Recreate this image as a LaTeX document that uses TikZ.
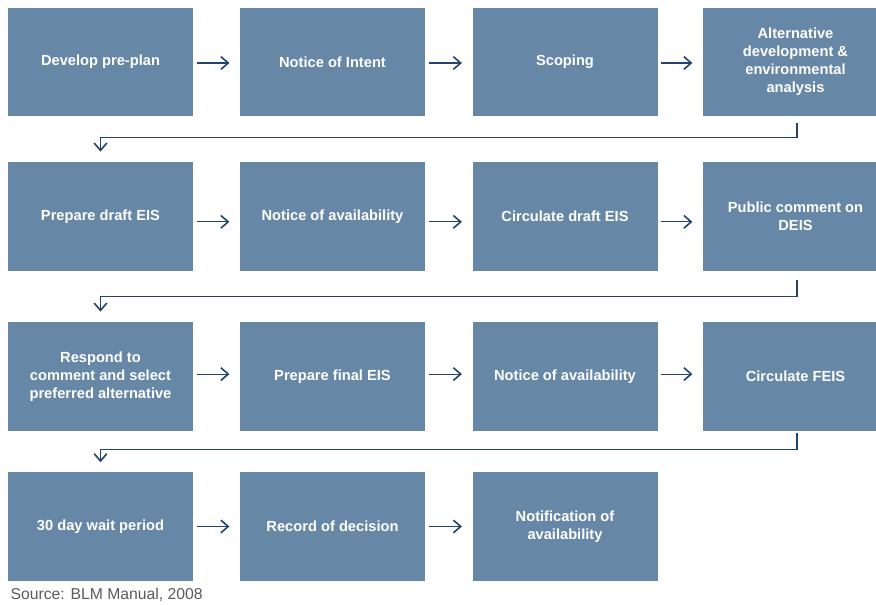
\documentclass[tikz,border=0pt]{standalone}
\usepackage{fontspec}
\setmainfont{Liberation Sans}
\usepackage{xcolor}
\definecolor{boxblue}{HTML}{6787A6}
\definecolor{linkblue}{HTML}{22436B}
\definecolor{srcgray}{HTML}{5A5A5A}
\usetikzlibrary{arrows.meta}

\begin{document}
\begin{tikzpicture}[x=0.75pt,y=-0.75pt,>={Straight Barb[length=5.5pt,width=9.5pt,line width=1.2pt]},line width=0.85pt]
            \tikzstyle{stage}=[rectangle,fill=boxblue,text=white,font=\bfseries\fontsize{11}{13.5}\selectfont,
                               align=center,minimum width=138.75pt,minimum height=81.5pt,inner sep=0pt]
            \tikzstyle{be}=[->,color=linkblue,shorten <=2.25pt,shorten >=7.5pt]
            \tikzstyle{turn}=[->,color=linkblue,rounded corners=0pt]

            \useasboundingbox (0,0) rectangle (876,605);

            \node[stage] (A1) at (100.5,62)    {Develop pre-plan};
            \node[stage] (A2) at (332.5,62)    {Notice of Intent};
            \node[stage] (A3) at (565,62)      {Scoping};
            \node[stage] (A4) at (795.5,62)    {Alternative\\development \&\\environmental\\analysis};

            \node[stage] (B1) at (100.5,216.5) {Prepare draft EIS};
            \node[stage] (B2) at (332.5,216.5) {Notice of availability};
            \node[stage] (B3) at (565,216.5)   {Circulate draft EIS};
            \node[stage] (B4) at (795.5,216.5) {Public comment on\\DEIS};

            \node[stage] (C1) at (100.5,376.5) {Respond to\\comment and select\\preferred alternative};
            \node[stage] (C2) at (332.5,376.5) {Prepare final EIS};
            \node[stage] (C3) at (565,376.5)   {Notice of availability};
            \node[stage] (C4) at (795.5,376.5) {Circulate FEIS};

            \node[stage] (D1) at (100.5,526.5) {30 day wait period};
            \node[stage] (D2) at (332.5,526.5) {Record of decision};
            \node[stage] (D3) at (565,526.5)   {Notification of\\availability};

            \node[anchor=west,text=srcgray,font=\fontsize{11.8}{13}\selectfont,inner sep=0pt] (src) at (10,595) {Source: BLM Manual, 2008};

            \path   ([yshift=-0.75pt]A1.east) edge [be] ([yshift=-0.75pt]A2.west)
                    ([yshift=-0.75pt]A2.east) edge [be] ([yshift=-0.75pt]A3.west)
                    ([yshift=-0.75pt]A3.east) edge [be] ([yshift=-0.75pt]A4.west)
                    ([yshift=-4pt]B1.east) edge [be] ([yshift=-4pt]B2.west)
                    ([yshift=-4pt]B2.east) edge [be] ([yshift=-4pt]B3.west)
                    ([yshift=-4pt]B3.east) edge [be] ([yshift=-4pt]B4.west)
                    ([yshift=1.8pt]C1.east) edge [be] ([yshift=1.8pt]C2.west)
                    ([yshift=1.8pt]C2.east) edge [be] ([yshift=1.8pt]C3.west)
                    ([yshift=1.8pt]C3.east) edge [be] ([yshift=1.8pt]C4.west)
                    (D1.east) edge [be] (D2.west)
                    (D2.east) edge [be] (D3.west);

            \draw[turn] (A4.south) ++(1.5,6) -- ++(0,15) -| ([yshift=7.5pt]B1.north);
            \draw[turn] (B4.south) ++(1.5,9) -- ++(0,16) -| ([yshift=7.5pt]C1.north);
            \draw[turn] (C4.south) ++(1.5,2) -- ++(0,16) -| ([yshift=7pt]D1.north);

        \end{tikzpicture}
\end{document}
